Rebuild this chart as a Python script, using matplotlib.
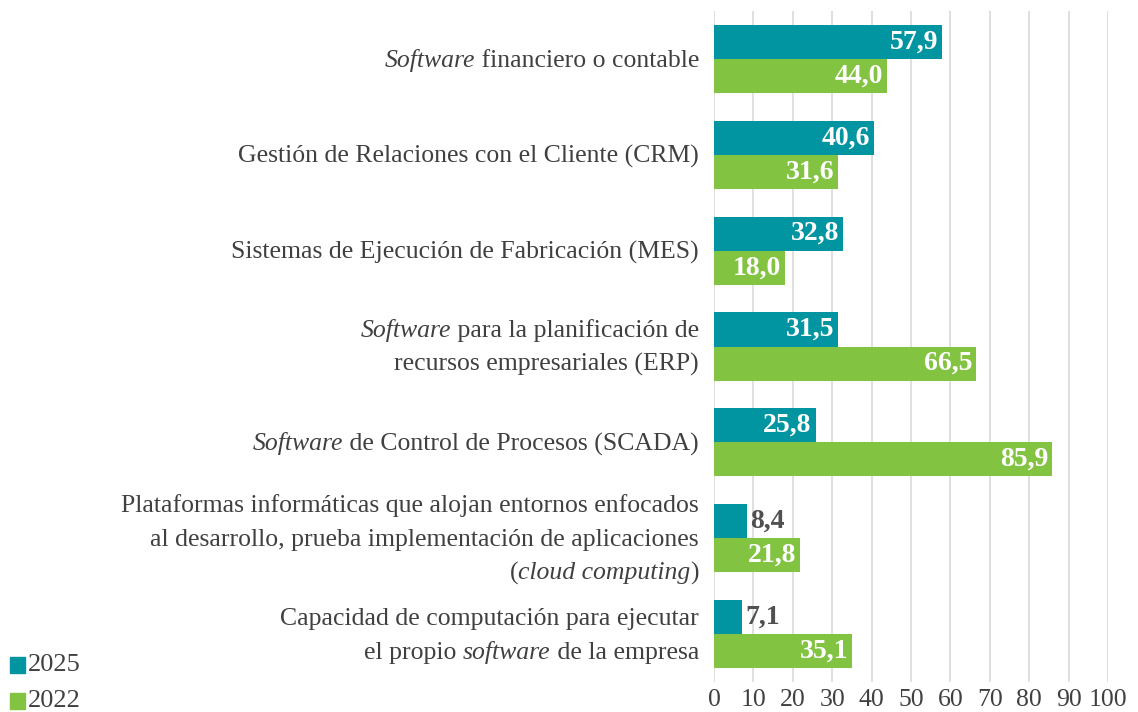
import matplotlib.pyplot as plt
import matplotlib.transforms as mtransforms
import numpy as np

plt.rcParams['font.family'] = ['Liberation Serif', 'DejaVu Serif']

# Data (top to bottom); each label is a list of lines, each line a list of (text, italic)
categories = [
    [[("Software", True), (" financiero o contable", False)]],
    [[("Gestión de Relaciones con el Cliente (CRM)", False)]],
    [[("Sistemas de Ejecución de Fabricación (MES)", False)]],
    [[("Software", True), (" para la planificación de", False)],
     [("recursos empresariales (ERP)", False)]],
    [[("Software", True), (" de Control de Procesos (SCADA)", False)]],
    [[("Plataformas informáticas que alojan entornos enfocados", False)],
     [("al desarrollo, prueba implementación de aplicaciones", False)],
     [("(", False), ("cloud computing", True), (")", False)]],
    [[("Capacidad de computación para ejecutar", False)],
     [("el propio ", False), ("software", True), (" de la empresa", False)]],
]
vals_2025 = [57.9, 40.6, 32.8, 31.5, 25.8, 8.4, 7.1]
vals_2022 = [44.0, 31.6, 18.0, 66.5, 85.9, 21.8, 35.1]

c2025 = "#0095A1"
c2022 = "#82C341"
txt = "#404040"
W, H = 1138, 712

fig = plt.figure(figsize=(W / 100, H / 100), dpi=100)
ax = fig.add_axes([0.6274, 0.042, 0.3462, 0.9426])

y = np.arange(len(categories))
h = 0.355
ax.barh(y - h / 2, vals_2025, height=h, color=c2025, zorder=3)
ax.barh(y + h / 2, vals_2022, height=h, color=c2022, zorder=3)

for yy, vals in [(y - h / 2, vals_2025), (y + h / 2, vals_2022)]:
    for yi, v in zip(yy, vals):
        s = f"{v:.1f}".replace(".", ",")
        if v < 12:
            ax.text(v + 0.8, yi, s, ha="left", va="center", color="#505050",
                    fontsize=20, fontweight="bold", zorder=4)
        else:
            ax.text(v - 1.0, yi, s, ha="right", va="center", color="white",
                    fontsize=20, fontweight="bold", zorder=4)

ax.set_ylim(len(categories) - 0.5, -0.5)
ax.set_xlim(0, 100)
ax.set_xticks(np.arange(0, 101, 10))
ax.set_yticks([])
ax.tick_params(axis="both", length=0, labelcolor=txt)
ax.tick_params(axis="x", labelsize=18.5, pad=5)
ax.grid(axis="x", color="#D9D9D9", linewidth=1.2, zorder=0)
for sp in ax.spines.values():
    sp.set_visible(False)

# category labels with mixed italic, right aligned left of the axes
fig.canvas.draw()
renderer = fig.canvas.get_renderer()
ident = mtransforms.IdentityTransform()
fs = 18.5
line_h = 33.5
x_right = 699
for i, lines in enumerate(categories):
    yc = ax.transData.transform((0, i))[1]
    n = len(lines)
    for k, segs in enumerate(lines):
        ymid = yc - (k - (n - 1) / 2) * line_h
        base = ymid - 0.3 * fs * 100 / 72
        x = x_right
        for seg, it in reversed(segs):
            t = fig.text(x, base, seg, transform=ident, ha="right", va="baseline",
                         fontsize=fs, color=txt, style="italic" if it else "normal")
            x -= t.get_window_extent(renderer).width

# legend at bottom left
for i, (lab, col) in enumerate([("2025", c2025), ("2022", c2022)]):
    yf = 1 - (665 + 36 * i) / H
    fig.patches.append(plt.Rectangle((10 / W, yf - 8 / H), 15 / W, 16 / H,
                                     transform=fig.transFigure, color=col))
    fig.text(28 / W, yf, lab, fontsize=19, color=txt, va="center", ha="left")

fig.savefig("out.png", dpi=100)
